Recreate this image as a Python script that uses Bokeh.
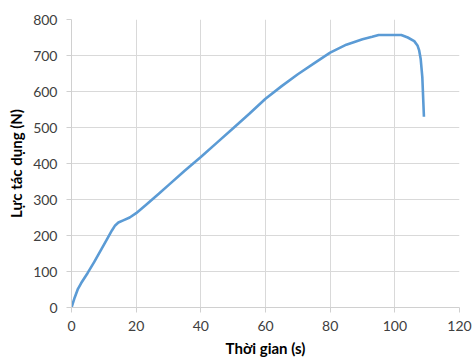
from bokeh.plotting import figure
from bokeh.models import FixedTicker
from bokeh.embed import file_html
from bokeh.resources import INLINE

time_s = [0, 1, 2, 3, 5, 7, 9, 11, 12.5, 13.5, 14.5, 16, 18, 20, 23, 27, 30, 35,
          40, 45, 50, 55, 60, 65, 70, 75, 80, 85, 90, 93, 95, 100, 102, 104, 106,
          107, 107.5, 108, 108.5, 109]
force_n = [0, 28, 52, 68, 96, 126, 158, 190, 214, 228, 236, 242, 250, 262, 285, 316,
           340, 380, 418, 458, 498, 538, 580, 615, 648, 678, 708, 730, 745, 752, 757,
           757, 757, 750, 740, 728, 715, 690, 640, 530]
x_ticks = [0, 20, 40, 60, 80, 100, 120]
y_ticks = [0, 100, 200, 300, 400, 500, 600, 700, 800]

FONT = "Lato"
TXT = "#404040"

p = figure(width=476, height=360, output_backend="svg", toolbar_location=None,
           x_range=(0, 120), y_range=(0, 800),
           min_border_left=71, min_border_right=17, min_border_top=19, min_border_bottom=53)
p.outline_line_color = None
p.background_fill_color = "white"
p.border_fill_color = "white"

p.line(time_s, force_n, line_color="#5B9BD5", line_width=2.6)

for ax, ticks in ((p.xaxis[0], x_ticks), (p.yaxis[0], y_ticks)):
    ax.ticker = FixedTicker(ticks=ticks)
    ax.minor_tick_line_color = None
    ax.axis_line_color = "#D0D0D0"
    ax.major_tick_line_color = "#D0D0D0"
    ax.major_tick_out = 5
    ax.major_tick_in = 0
    ax.major_label_text_font = FONT
    ax.major_label_text_font_size = "14px"
    ax.major_label_text_color = TXT
    ax.axis_label_text_font = FONT
    ax.axis_label_text_font_size = "15px"
    ax.axis_label_text_font_style = "bold"
    ax.axis_label_text_color = "#000000"

p.xaxis.axis_label = "Thời gian (s)"
p.yaxis.axis_label = "Lực tác dụng (N)"
p.xaxis.major_label_standoff = 8
p.yaxis.major_label_standoff = 9
p.xaxis.axis_label_standoff = 5
p.yaxis.axis_label_standoff = 5

p.xgrid.ticker = FixedTicker(ticks=x_ticks)
p.ygrid.ticker = FixedTicker(ticks=y_ticks)
p.grid.grid_line_color = "#D9D9D9"
p.grid.grid_line_width = 1

open("out.html", "w").write(file_html(p, INLINE))
